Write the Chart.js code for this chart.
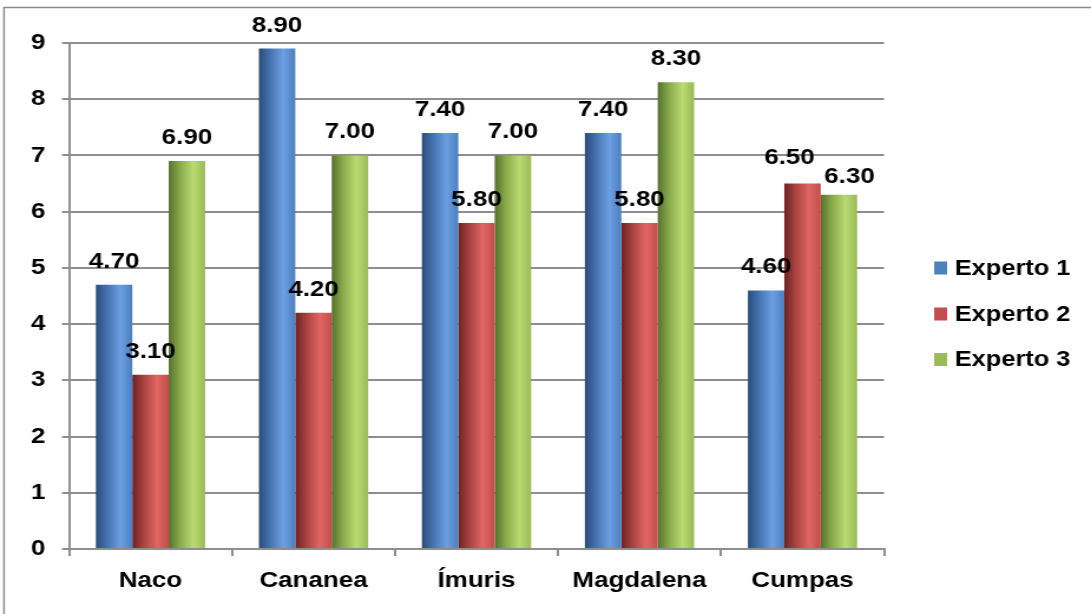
<!DOCTYPE html>
<html>
<head>
<meta charset="utf-8">
<script src="https://cdn.jsdelivr.net/npm/chart.js@4.4.1/dist/chart.umd.min.js"></script>
<style>
  html, body { margin: 0; padding: 0; background: #fff; overflow: hidden; }
</style>
</head>
<body>
<!-- the source picture is stretched sideways, so draw narrow and widen with inline css -->
<canvas id="chart" width="925" height="614" style="display:block;width:1091px;height:614px;"></canvas>
<script>
const categories = ['Naco', 'Cananea', 'Ímuris', 'Magdalena', 'Cumpas'];
const seriesNames = ['Experto 1', 'Experto 2', 'Experto 3'];
const experto1 = [4.7, 8.9, 7.4, 7.4, 4.6];
const experto2 = [3.1, 4.2, 5.8, 5.8, 6.5];
const experto3 = [6.9, 7.0, 7.0, 8.3, 6.3];

const flatColors = ['#4f81bd', '#c0504d', '#9bbb59'];
const shades = [
    [[0, '#2b4b76'], [0.3, '#4572b0'], [0.68, '#6c9fe3'], [1, '#4d7ebe']],
    [[0, '#6b2322'], [0.3, '#a74240'], [0.68, '#e26663'], [1, '#bf4f4c']],
    [[0, '#57702f'], [0.3, '#88a94a'], [0.68, '#bada72'], [1, '#9aba57']]
];
const gridColor = '#8e8e8e';
const FONT = "'Liberation Sans', Arial, sans-serif";

// a couple of labels were moved by hand in the original (Cumpas)
function labelNudge(i, j) {
    if (j === 4 && i === 1) return [-11, -3];
    if (j === 4 && i === 2) return [9, 5];
    return [0, 0];
}

Chart.defaults.font.family = FONT;
Chart.defaults.font.weight = 'bold';
Chart.defaults.font.size = 22;
Chart.defaults.color = '#000000';

const chartLook = {
    id: 'chartLook',
    beforeDraw(chart) {
        const ctx = chart.ctx;
        ctx.save();
        ctx.fillStyle = '#ffffff';
        ctx.fillRect(0, 0, chart.width, chart.height);
        ctx.restore();
    },
    beforeDatasetsDraw(chart) {
        const ctx = chart.ctx;
        chart.data.datasets.forEach((ds, i) => {
            chart.getDatasetMeta(i).data.forEach(bar => {
                const left = bar.x - bar.width / 2;
                const g = ctx.createLinearGradient(left, 0, left + bar.width, 0);
                shades[i].forEach(s => g.addColorStop(s[0], s[1]));
                bar.options = Object.assign({}, bar.options, { backgroundColor: g });
            });
        });
    },
    afterDatasetsDraw(chart) {
        const ctx = chart.ctx;
        ctx.save();
        ctx.font = 'bold 22px ' + FONT;
        ctx.fillStyle = '#000';
        ctx.textAlign = 'center';
        ctx.textBaseline = 'alphabetic';
        chart.data.datasets.forEach((ds, i) => {
            chart.getDatasetMeta(i).data.forEach((bar, j) => {
                const n = labelNudge(i, j);
                ctx.fillText(ds.data[j].toFixed(2), bar.x + n[0], bar.y - 17 + n[1]);
            });
        });
        ctx.restore();
    },
    afterDraw(chart) {
        const ctx = chart.ctx;
        ctx.save();
        // outer frame, only top and left show in the picture
        ctx.strokeStyle = '#8a8a8a';
        ctx.lineWidth = 1.5;
        ctx.beginPath();
        ctx.moveTo(3.4, chart.height);
        ctx.lineTo(3.4, 7.5);
        ctx.lineTo(chart.width, 7.5);
        ctx.stroke();

        // legend
        const ys = [268, 314, 359.5];
        ctx.font = 'bold 21.5px ' + FONT;
        ctx.textBaseline = 'middle';
        ctx.textAlign = 'left';
        seriesNames.forEach((name, i) => {
            ctx.fillStyle = flatColors[i];
            ctx.fillRect(792, ys[i] - 6.5, 11, 13);
            ctx.fillStyle = '#000';
            ctx.fillText(name, 809.5, ys[i] + 1);
        });
        ctx.restore();
    }
};

document.addEventListener('DOMContentLoaded', () => {
    const canvas = document.getElementById('chart');

    new Chart(canvas, {
        type: 'bar',
        data: {
            labels: categories,
            datasets: [
                { label: seriesNames[0], data: experto1, backgroundColor: flatColors[0] },
                { label: seriesNames[1], data: experto2, backgroundColor: flatColors[1] },
                { label: seriesNames[2], data: experto3, backgroundColor: flatColors[2] }
            ]
        },
        options: {
            responsive: false,
            animation: false,
            devicePixelRatio: 1,
            categoryPercentage: 0.67,
            barPercentage: 1.0,
            layout: { padding: { top: 43, right: 175.5, bottom: 0, left: 0 } },
            plugins: {
                legend: { display: false },
                tooltip: { enabled: false }
            },
            scales: {
                x: {
                    grid: {
                        display: true,
                        drawOnChartArea: false,
                        color: gridColor,
                        lineWidth: 2,
                        tickLength: 7
                    },
                    border: { display: true, color: gridColor, width: 2 },
                    ticks: { padding: 12, maxRotation: 0 },
                    afterFit(scale) { scale.height = 65; }
                },
                y: {
                    min: 0,
                    max: 9,
                    ticks: { stepSize: 1, padding: 14 },
                    grid: {
                        color: gridColor,
                        lineWidth: 2,
                        tickLength: 6
                    },
                    border: { display: true, color: gridColor, width: 2 },
                    afterFit(scale) { scale.width = 58.5; }
                }
            }
        },
        plugins: [chartLook]
    });
});
</script>
</body>
</html>
